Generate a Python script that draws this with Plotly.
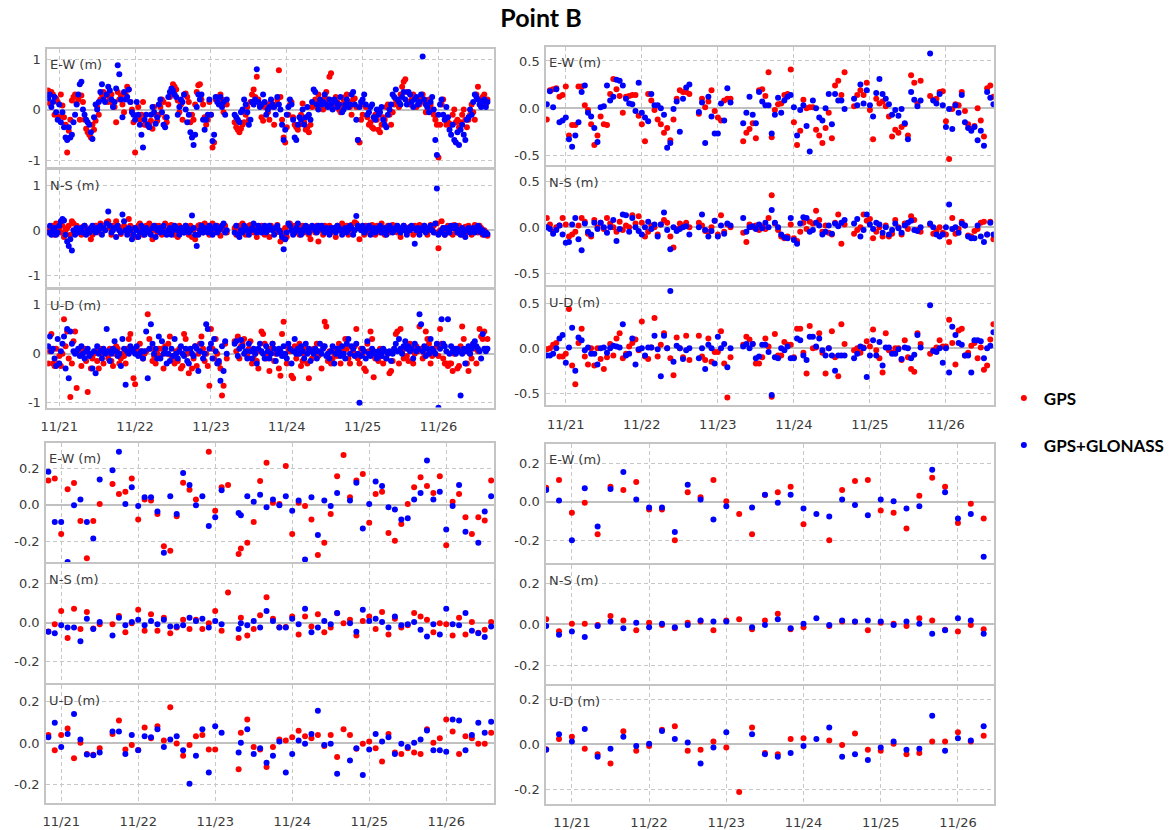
import pandas as pd
import plotly.graph_objects as go

BASE = pd.Timestamp("2013-11-21")

# ---------------- data (hours since 11/21 00:00, metres) ----------------
# Top-left quadrant (30-min epochs)
tl_hours = [
    -3.5, -3, -2.5, -2, -1.5, -1, -0.5, 0, 0.5, 1,
    1.5, 2, 2.5, 3, 3.5, 4, 4.5, 5, 5.5, 6,
    6.5, 7, 7.5, 8, 8.5, 9, 9.5, 10, 10.5, 11,
    11.5, 12, 12.5, 13, 13.5, 14, 14.5, 15, 15.5, 16,
    16.5, 17, 17.5, 18, 18.5, 19, 19.5, 20, 20.5, 21,
    21.5, 22, 22.5, 23, 23.5, 24, 24.5, 25, 25.5, 26,
    26.5, 27, 27.5, 28, 28.5, 29, 29.5, 30, 30.5, 31,
    31.5, 32, 32.5, 33, 33.5, 34, 34.5, 35, 35.5, 36,
    36.5, 37, 37.5, 38, 38.5, 39, 39.5, 40, 40.5, 41,
    41.5, 42, 42.5, 43, 43.5, 44, 44.5, 45, 45.5, 46,
    46.5, 47, 47.5, 48, 48.5, 49, 49.5, 50, 50.5, 51,
    51.5, 52, 52.5, 53,
    55.5, 56, 56.5, 57, 57.5, 58, 58.5, 59, 59.5, 60,
    60.5, 61, 61.5, 62, 62.5, 63, 63.5, 64, 64.5, 65,
    65.5, 66, 66.5, 67, 67.5, 68, 68.5, 69, 69.5, 70,
    70.5, 71, 71.5, 72, 72.5, 73, 73.5, 74, 74.5, 75,
    75.5, 76, 76.5, 77, 77.5, 78, 78.5, 79, 79.5, 80,
    80.5, 81, 81.5, 82, 82.5, 83, 83.5, 84, 84.5, 85,
    85.5, 86, 86.5, 87, 87.5, 88, 88.5, 89, 89.5, 90,
    90.5, 91, 91.5, 92, 92.5, 93, 93.5, 94, 94.5, 95,
    95.5, 96, 96.5, 97, 97.5, 98, 98.5, 99, 99.5, 100,
    100.5, 101, 101.5, 102, 102.5, 103, 103.5, 104, 104.5, 105,
    105.5, 106, 106.5, 107, 107.5, 108, 108.5, 109, 109.5, 110,
    110.5, 111, 111.5, 112, 112.5, 113, 113.5, 114, 114.5, 115,
    115.5, 116, 116.5, 117, 117.5, 118, 118.5, 119, 119.5, 120,
    120.5, 121, 121.5, 122, 122.5, 123, 123.5, 124, 124.5, 125,
    125.5, 126, 126.5, 127, 127.5, 128, 128.5, 129, 129.5, 130,
    130.5, 131, 131.5, 132, 132.5, 133, 133.5, 134, 134.5, 135,
    135.5,
]
tl_ew_gps = [
    0.38, 0.12, 0.35, 0.3, -0.1, 0.22, 0.15, -0.14, 0.3, 0.08,
    -0.15, -0.3, -0.85, -0.42, -0.2, 0.18, 0.25, 0.3, 0.12, 0.2,
    -0.2, 0.28, 0.15, -0.2, -0.38, -0.45, -0.5, -0.55, -0.3, -0.4,
    -0.22, 0.05, -0.1, 0.2, 0.3, 0.35, 0.28, 0.3, 0.15, 0.22,
    0.3, 0.1, 0.05, -0.25, 0.35, 0.2, 0.28, 0.1, -0.05, 0.3,
    0.45, 0.4, 0.15, 0.0, -0.25, -0.85, -0.12, 0.05, -0.2, -0.1,
    0.15, -0.3, -0.28, -0.32, -0.3, -0.22, -0.38, 0.05, -0.1, -0.22,
    -0.1, 0.05, 0.2, 0.15, -0.15, -0.25, 0.1, 0.25, 0.3, 0.5,
    0.45, 0.4, 0.18, -0.05, 0.1, -0.2, 0.3, 0.32, 0.25, 0.15,
    -0.25, -0.1, -0.2, 0.1, 0.35, 0.48, 0.5, 0.2, 0.1, -0.15,
    -0.3, -0.2, 0.15, -0.1, -0.75, -0.65, 0.2, 0.25, 0.15, 0.3,
    0.2, -0.05, 0.18, 0.1,
    -0.25, -0.35, -0.4, -0.45, -0.38, -0.3, -0.25, -0.1, 0.05, -0.2,
    0.15, 0.3, 0.4, 0.25, 0.65, 0.2, 0.1, -0.15, -0.22, 0.05,
    0.1, -0.05, -0.2, 0.15, 0.05, -0.3, 0.1, 0.2, 0.78, 0.25,
    -0.2, -0.55, -0.65, -0.35, -0.1, 0.1, 0.15, -0.15, -0.3, -0.35,
    -0.4, -0.3, -0.1, 0.12, -0.25, -0.4, -0.35, -0.45, -0.3, 0.05,
    0.1, 0.2, 0.05, 0.3, 0.18, 0.1, 0.0, 0.25, 0.35, 0.2,
    0.65, 0.72, 0.1, 0.05, 0.25, 0.15, 0.0, -0.05, 0.1, 0.2,
    0.25, 0.3, 0.15, 0.05, -0.1, 0.2, 0.22, 0.05, -0.6, -0.65,
    -0.2, -0.1, 0.1, 0.05, -0.15, -0.3, -0.25, -0.35, -0.38, -0.1,
    -0.2, -0.4, -0.45, -0.3, -0.15, -0.2, 0.05, 0.1, -0.1, -0.3,
    -0.05, 0.1, 0.2, 0.15, 0.05, 0.3, 0.45, 0.55, 0.6, 0.35,
    0.15, 0.1, 0.2, 0.3, 0.25, 0.05, 0.2, 0.1, 0.2, 0.3,
    0.15, -0.05, 0.05, 0.2, 0.1, 0.0, -0.1, -0.2, -0.3, -0.95,
    -0.3, 0.1, 0.2, -0.2, -0.3, -0.25, -0.28, -0.3, -0.1, 0.0,
    -0.25, -0.2, -0.35, -0.25, -0.1, 0.0, -0.2, -0.35, -0.2, -0.1,
    0.1, -0.05, -0.2, 0.3, 0.45, 0.2, 0.15, 0.25, 0.3, 0.1,
    0.2,
]
tl_ew_glo = [
    0.22, 0.3, 0.05, 0.15, 0.25, -0.05, -0.2, 0.1, -0.25, -0.05,
    -0.35, -0.55, -0.6, -0.35, -0.55, -0.5, -0.25, -0.1, 0.1, 0.3,
    0.5, 0.55, 0.0, -0.1, -0.2, -0.25, -0.3, -0.45, -0.58, -0.15,
    0.1, 0.0, 0.15, 0.35, 0.5, 0.2, 0.15, 0.3, 0.45, 0.38,
    0.2, 0.05, 0.15, 0.42, 0.88, 0.7, 0.2, -0.15, 0.35, 0.2,
    0.25, 0.4, 0.15, -0.05, -0.1, -0.2, 0.15, -0.1, -0.3, -0.5,
    -0.75, -0.2, -0.1, -0.3, -0.35, -0.1, 0.05, -0.05, -0.28, -0.15,
    0.1, 0.2, -0.05, -0.3, -0.35, -0.15, 0.25, 0.35, 0.42, 0.38,
    0.3, 0.25, -0.1, 0.05, 0.2, 0.15, 0.3, 0.0, -0.25, -0.1,
    -0.45, -0.55, -0.7, -0.5, 0.05, 0.3, 0.2, 0.3, -0.2, -0.4,
    -0.2, -0.1, 0.2, -0.1, -0.62, -0.5, 0.25, 0.15, 0.1, 0.25,
    0.05, 0.15, -0.1, 0.2,
    -0.1, -0.15, -0.2, -0.25, -0.05, 0.0, 0.2, 0.1, -0.05, -0.3,
    -0.2, 0.15, 0.1, 0.2, 0.8, 0.15, 0.05, 0.1, 0.3, 0.15,
    -0.1, 0.0, 0.05, 0.2, 0.1, 0.05, -0.1, 0.25, 0.1, 0.0,
    -0.3, -0.6, -0.4, -0.1, 0.05, 0.2, 0.1, -0.2, -0.55, -0.6,
    -0.3, -0.15, -0.2, 0.0, -0.3, -0.15, 0.05, -0.1, -0.2, 0.15,
    0.4, 0.35, 0.1, 0.0, 0.2, 0.1, 0.15, 0.3, 0.1, 0.05,
    0.2, 0.1, 0.0, 0.2, 0.15, 0.05, 0.1, 0.25, -0.05, 0.0,
    0.1, 0.2, 0.05, 0.1, 0.3, 0.35, 0.1, -0.2, -0.6, 0.05,
    0.15, 0.2, 0.3, 0.1, -0.1, -0.05, 0.05, 0.1, -0.15, -0.2,
    0.0, -0.1, -0.05, 0.05, -0.2, -0.3, -0.35, -0.1, 0.0, 0.1,
    0.3, 0.25, 0.4, 0.2, 0.15, 0.1, 0.25, 0.35, 0.2, 0.1,
    0.35, 0.3, 0.15, 0.05, 0.2, 0.25, 0.1, 0.15, 0.3, 1.05,
    0.2, 0.1, 0.05, -0.05, 0.15, 0.25, 0.0, -0.6, -0.9, -0.1,
    0.1, 0.2, -0.1, -0.2, 0.05, -0.15, -0.4, -0.5, -0.3, -0.6,
    -0.65, -0.45, -0.7, -0.4, -0.3, -0.5, -0.6, -0.2, -0.15, 0.0,
    -0.1, 0.15, 0.3, 0.25, 0.2, 0.1, 0.05, 0.15, 0.2, 0.05,
    0.15,
]
tl_ns_gps = [
    0.05, -0.05, 0.1, 0.0, -0.1, 0.15, 0.12, 0.05, -0.05, 0.1,
    -0.15, 0.0, 0.05, 0.1, -0.1, 0.2, 0.15, -0.05, 0.1, 0.05,
    0.0, -0.1, 0.08, 0.1, 0.05, -0.05, 0.0, -0.2, -0.1, 0.05,
    0.1, 0.0, -0.05, 0.15, 0.05, 0.1, 0.0, 0.18, 0.2, 0.05,
    -0.1, 0.1, 0.05, 0.2, 0.1, 0.0, -0.08, 0.05, 0.1, 0.0,
    -0.05, 0.25, 0.1, -0.1, 0.05, 0.0, -0.15, 0.1, 0.15, 0.05,
    -0.1, 0.0, 0.1, -0.05, 0.15, 0.05, -0.2, 0.0, 0.1, -0.05,
    0.1, 0.0, -0.1, 0.05, 0.15, 0.0, -0.05, 0.1, 0.12, 0.0,
    -0.1, 0.05, -0.15, 0.1, 0.0, 0.05, -0.05, 0.1, 0.0, -0.1,
    0.1, -0.15, 0.0, -0.2, 0.05, 0.1, 0.12, 0.05, -0.05, 0.15,
    0.0, 0.1, -0.1, 0.05, 0.15, -0.05, 0.0, 0.1, 0.05, -0.12,
    0.05, 0.0, 0.1, -0.05,
    0.05, -0.1, 0.0, 0.1, -0.05, 0.15, 0.05, -0.1, 0.0, 0.1,
    0.12, 0.05, -0.05, 0.1, -0.15, 0.0, 0.05, 0.1, -0.05, -0.1,
    0.0, 0.05, -0.15, 0.1, 0.05, 0.0, -0.05, 0.12, 0.0, -0.25,
    -0.1, 0.0, 0.05, -0.15, 0.1, 0.15, 0.05, -0.05, 0.1, 0.0,
    0.1, -0.1, 0.05, 0.1, -0.05, 0.0, 0.08, -0.1, -0.2, 0.0,
    0.05, -0.05, 0.1, -0.25, 0.0, 0.05, -0.1, 0.1, 0.05, 0.0,
    0.1, -0.05, 0.05, 0.0, -0.15, 0.1, 0.0, 0.05, 0.15, -0.05,
    0.0, 0.1, -0.1, 0.05, 0.12, 0.0, 0.18, 0.15, 0.05, -0.2,
    0.05, 0.0, -0.1, 0.1, 0.05, -0.05, 0.0, 0.12, 0.05, -0.1,
    0.1, 0.0, -0.05, 0.15, 0.05, -0.1, 0.0, 0.1, -0.05, 0.05,
    0.12, 0.0, 0.1, -0.05, 0.05, -0.15, 0.0, 0.1, 0.05, -0.05,
    0.0, 0.08, 0.05, -0.1, 0.1, 0.0, -0.05, 0.12, 0.05, 0.0,
    0.1, 0.05, -0.1, 0.0, 0.12, 0.05, 0.1, -0.05, 0.15, -0.4,
    0.0, 0.2, 0.05, -0.1, 0.0, 0.1, -0.05, 0.05, -0.1, 0.12,
    0.0, -0.05, 0.1, 0.05, -0.1, 0.0, 0.08, -0.05, 0.1, 0.0,
    -0.1, 0.05, 0.12, 0.0, -0.05, 0.1, 0.05, -0.1, 0.0, -0.05,
    -0.12,
]
tl_ns_glo = [
    -0.05, 0.1, -0.1, 0.0, 0.05, -0.1, -0.05, 0.1, 0.2, 0.25,
    0.22, -0.1, -0.25, -0.35, -0.2, -0.45, 0.0, -0.1, 0.05, -0.05,
    0.0, 0.05, -0.05, 0.1, -0.1, 0.0, -0.05, 0.05, 0.1, 0.0,
    -0.05, 0.05, 0.0, 0.1, -0.1, 0.05, 0.0, 0.15, 0.42, 0.1,
    -0.05, 0.0, 0.05, -0.15, 0.1, 0.0, -0.05, 0.35, 0.2, 0.0,
    -0.1, 0.05, 0.0, -0.2, -0.1, 0.05, 0.0, -0.15, -0.05, 0.1,
    0.0, -0.1, 0.05, 0.0, -0.05, -0.1, 0.05, 0.1, -0.15, 0.0,
    0.05, -0.05, 0.0, 0.1, -0.05, -0.1, 0.0, 0.05, -0.1, 0.0,
    0.1, 0.05, 0.0, -0.1, 0.05, 0.0, -0.05, 0.1, 0.05, -0.05,
    0.0, 0.33, 0.05, -0.1, -0.35, -0.1, 0.0, 0.1, -0.05, 0.05,
    0.0, -0.05, 0.1, 0.0, -0.1, 0.05, 0.1, -0.05, 0.0, 0.05,
    0.1, 0.15, -0.05, 0.0,
    -0.05, 0.1, -0.1, -0.15, 0.0, -0.05, 0.1, 0.05, 0.0, -0.1,
    0.0, 0.05, 0.15, 0.0, -0.05, 0.1, 0.0, -0.05, 0.05, 0.1,
    -0.05, 0.0, 0.1, 0.05, 0.0, -0.1, 0.05, 0.1, 0.0, -0.05,
    -0.15, -0.42, -0.2, -0.05, 0.15, 0.1, 0.0, -0.1, -0.05, 0.05,
    0.15, 0.0, -0.1, -0.05, 0.05, 0.1, 0.0, -0.05, 0.05, 0.1,
    0.08, 0.0, -0.05, 0.1, 0.05, 0.1, 0.0, -0.05, 0.05, 0.0,
    -0.1, 0.05, 0.0, 0.05, -0.05, 0.1, 0.05, 0.0, -0.1, 0.0,
    0.05, -0.05, 0.0, 0.1, 0.05, -0.1, 0.0, 0.32, 0.1, 0.05,
    0.0, 0.1, -0.05, 0.0, 0.05, 0.1, -0.1, 0.0, 0.05, -0.05,
    0.0, 0.05, 0.1, -0.05, 0.0, 0.05, -0.1, 0.0, 0.1, 0.05,
    -0.05, 0.0, 0.05, 0.1, 0.0, -0.05, 0.05, 0.1, 0.0, -0.1,
    0.05, 0.0, 0.1, 0.05, -0.3, 0.0, 0.05, -0.1, 0.0, 0.05,
    0.1, -0.05, 0.0, 0.05, 0.1, 0.0, -0.05, 0.15, 0.93, -0.1,
    -0.05, 0.0, 0.05, -0.1, 0.05, 0.0, -0.05, 0.1, 0.05, 0.05,
    0.1, -0.05, 0.0, -0.1, 0.05, -0.05, -0.15, 0.0, 0.05, -0.05,
    0.0, 0.05, -0.05, 0.0, 0.1, 0.05, -0.05, 0.0, -0.1, -0.05,
    -0.08,
]
tl_ud_gps = [
    -0.2, 0.05, 0.4, -0.2, -0.25, 0.1, -0.2, -0.05, -0.25, 0.0,
    0.7, 0.15, 0.45, -0.1, -0.88, -0.2, 0.25, 0.45, -0.7, 0.05,
    0.0, -0.25, 0.05, 0.1, -0.15, -0.78, 0.0, -0.3, -0.1, 0.0,
    0.05, -0.15, -0.3, 0.1, 0.0, -0.2, 0.05, 0.0, -0.1, 0.1,
    -0.15, -0.25, 0.0, 0.15, 0.1, -0.2, -0.1, 0.0, -0.05, -0.2,
    0.1, 0.3, 0.4, 0.05, -0.5, -0.62, 0.1, 0.0, 0.2, 0.05,
    -0.1, 0.0, 0.05, 0.8, 0.3, 0.1, -0.15, -0.05, -0.2, 0.0,
    0.1, -0.05, 0.1, -0.3, 0.15, 0.0, 0.2, 0.35, -0.05, -0.1,
    -0.2, 0.05, -0.15, 0.1, -0.3, -0.25, 0.4, 0.3, 0.0, -0.4,
    0.05, -0.3, -0.1, 0.15, -0.25, 0.0, 0.2, 0.35, 0.1, -0.15,
    0.0, -0.25, -0.65, 0.5, 0.1, -0.1, 0.3, 0.0, -0.2, -0.3,
    -0.85, -0.65, 0.2, -0.1,
    0.25, 0.05, 0.35, -0.1, 0.15, 0.2, 0.3, 0.0, -0.05, 0.1,
    0.25, -0.2, -0.1, 0.0, -0.15, -0.3, 0.05, 0.45, 0.4, 0.2,
    -0.1, 0.0, -0.35, 0.1, 0.2, -0.15, 0.0, 0.05, -0.3, -0.45,
    0.4, 0.65, -0.05, -0.2, 0.1, 0.05, -0.45, -0.5, 0.15, -0.1,
    0.0, 0.2, -0.25, -0.15, 0.0, 0.1, -0.2, -0.5, 0.05, -0.1,
    0.1, 0.05, 0.2, -0.05, 0.0, -0.3, 0.15, 0.65, 0.55, -0.15,
    0.05, -0.2, -0.1, 0.0, 0.1, -0.05, 0.2, -0.2, 0.0, 0.05,
    0.3, 0.1, -0.1, -0.2, 0.0, 0.05, 0.15, 0.5, -0.1, -0.2,
    0.1, 0.0, -0.3, -0.35, 0.2, 0.05, 0.45, 0.3, -0.48, -0.1,
    0.0, -0.15, 0.1, -0.05, -0.2, 0.05, -0.1, 0.0, -0.4, -0.35,
    -0.15, 0.1, 0.4, 0.45, -0.2, 0.5, 0.05, -0.1, 0.15, -0.05,
    -0.15, 0.2, 0.1, -0.2, 0.0, 0.15, 0.05, 0.55, 0.1, -0.1,
    0.0, 0.45, 0.3, 0.2, -0.2, -0.05, 0.1, 0.0, 0.15, -0.05,
    0.5, 0.2, -0.1, -0.2, -0.2, -0.25, -0.2, -0.2, -0.35, 0.0,
    0.1, -0.3, -0.25, 0.15, 0.55, 0.3, 0.05, -0.2, -0.35, 0.0,
    -0.1, 0.2, 0.1, -0.2, 0.05, 0.5, 0.35, 0.3, 0.45, 0.1,
    0.3,
]
tl_ud_glo = [
    0.15, 0.35, 0.05, 0.1, -0.1, -0.25, 0.3, -0.2, 0.05, 0.2,
    0.35, -0.3, 0.5, -0.5, 0.45, 0.2, 0.05, 0.0, 0.05, 0.1,
    -0.05, 0.15, 0.0, -0.1, 0.05, 0.1, -0.05, 0.0, -0.3, 0.05,
    -0.4, 0.15, 0.0, 0.05, -0.1, 0.1, 0.0, 0.5, 0.05, -0.15,
    0.0, 0.1, 0.25, 0.05, -0.05, 0.0, -0.25, 0.3, 0.1, -0.63,
    0.05, 0.0, 0.15, 0.1, 0.05, 0.0, 0.15, -0.05, 0.0, 0.05,
    -0.1, 0.05, 0.45, -0.5, 0.1, 0.6, 0.2, 0.0, 0.1, -0.1,
    0.35, -0.1, 0.25, 0.0, 0.1, -0.2, 0.0, -0.15, 0.1, -0.05,
    0.3, 0.0, -0.1, 0.05, 0.15, 0.0, -0.05, 0.1, -0.15, -0.2,
    0.1, 0.0, -0.05, 0.15, 0.1, -0.35, 0.05, 0.2, -0.1, 0.0,
    0.6, 0.5, 0.1, 0.2, -0.1, 0.3, 0.05, -0.2, -0.15, -0.55,
    0.15, -0.35, 0.25, 0.0,
    0.2, 0.25, -0.05, 0.1, 0.28, 0.15, 0.0, 0.05, -0.1, 0.2,
    0.05, -0.1, 0.1, 0.0, -0.2, 0.1, 0.2, 0.05, 0.0, -0.1,
    0.15, 0.05, -0.1, 0.0, 0.2, 0.1, -0.15, 0.0, 0.1, 0.05,
    -0.05, 0.15, 0.0, -0.1, 0.2, 0.1, -0.2, 0.05, 0.3, 0.0,
    0.1, 0.0, 0.15, 0.05, -0.1, 0.2, 0.0, 0.1, -0.15, 0.05,
    0.0, 0.1, -0.1, 0.05, 0.2, 0.0, 0.1, 0.15, -0.05, 0.0,
    -0.1, 0.05, 0.15, -0.2, 0.0, 0.1, 0.05, -0.05, 0.15, 0.0,
    -0.1, 0.2, 0.3, 0.0, 0.15, 0.1, -0.05, 0.2, 0.0, -1.0,
    -0.05, 0.1, 0.05, -0.1, 0.25, 0.0, -0.05, 0.1, 0.05, 0.0,
    -0.1, 0.05, 0.0, -0.05, 0.1, 0.05, -0.1, 0.0, 0.05, -0.15,
    0.0, 0.1, 0.2, 0.05, 0.3, 0.1, 0.0, 0.15, 0.25, 0.1,
    0.15, 0.05, 0.1, -0.1, 0.2, 0.05, 0.1, 0.8, 0.6, 0.05,
    0.15, -0.05, 0.1, 0.0, 0.3, 0.1, 0.05, 0.0, 0.2, -1.1,
    0.1, 0.7, 0.2, 0.15, 0.05, 0.7, 0.0, 0.15, 0.05, 0.1,
    0.0, 0.1, 0.05, -0.85, 0.0, 0.1, -0.2, 0.05, 0.15, 0.0,
    0.1, 0.2, 0.25, 0.15, 0.1, 0.05, -0.1, 0.4, 0.1, 0.05,
    0.1,
]

# Top-right quadrant (hourly epochs)
tr_hours = [
    -6, -5, -4, -3, -2, -1,
    0, 1, 2, 3, 4, 5, 6, 7, 8, 9,
    10, 11, 12, 13, 14, 15, 16, 17, 18, 19,
    20, 21, 22, 23, 24, 25, 26, 27, 28, 29,
    30, 31, 32, 33, 34, 35, 36, 37, 38, 39,
    40, 41, 42, 43, 44, 45, 46, 47, 48, 49,
    50, 51, 52, 53, 54, 55, 56, 57, 58, 59,
    60, 61, 62, 63, 64, 65, 66, 67, 68, 69,
    70, 71, 72, 73, 74, 75, 76, 77, 78, 79,
    80, 81, 82, 83, 84, 85, 86, 87, 88, 89,
    90, 91, 92, 93, 94, 95, 96, 97, 98, 99,
    100, 101, 102, 103, 104, 105, 106, 107, 108, 109,
    110, 111, 112, 113, 114, 115, 116, 117, 118, 119,
    120, 121, 122, 123, 124, 125, 126, 127, 128, 129,
    130, 131, 132, 133, 134, 135,
]
tr_ew_gps = [
    -0.12, 0.19, 0.2, 0.21, 0.12, 0.14,
    0.23, -0.29, -0.18, -0.18, 0.23, 0.23, 0.03, -0.02, -0.17, -0.39,
    -0.29, -0.09, -0.17, -0.18, 0.15, 0.31, 0.2, 0.13, -0.05, 0.12,
    0.13, 0.14, 0.14, -0.08, -0.17, -0.35, 0.15, 0.08, -0.02, -0.12,
    -0.17, -0.26, -0.21, -0.34, -0.12, 0.1, 0.19, 0.17, 0.17, 0.15,
    None, None, -0.06, 0.1, 0.01, 0.07, 0.19, -0.03, -0.1, -0.13,
    0.08, 0.1, 0.1, None, None, None, -0.35, -0.26, -0.22, -0.16,
    -0.32, 0.19, 0.2, 0.13, 0.38, -0.31, -0.02, 0.04, 0.05, 0.14,
    0.15, 0.41, -0.15, -0.39, -0.24, 0.09, 0.0, 0.01, 0.01, -0.23,
    -0.29, -0.37, -0.21, -0.05, -0.32, 0.24, 0.29, 0.14, 0.38, None,
    None, 0.02, 0.14, 0.19, 0.14, 0.27, -0.02, -0.33, 0.1, 0.05,
    0.07, 0.02, -0.09, -0.3, -0.23, -0.26, -0.2, -0.17, -0.29, 0.35,
    0.27, 0.05, 0.29, None, None, 0.13, 0.09, 0.1, 0.17, 0.18,
    -0.14, -0.54, -0.01, 0.04, 0.03, 0.17, -0.03, -0.17, -0.22, -0.19,
    0.0, -0.13, -0.3, 0.21, 0.24, 0.12,
]
tr_ew_glo = [
    0.04, 0.18, 0.01, 0.2, -0.15, -0.13,
    -0.1, -0.33, -0.41, -0.29, -0.15, 0.17, 0.24, -0.05, -0.09, -0.21,
    -0.36, 0.01, 0.02, 0.24, 0.08, 0.12, 0.3, 0.29, 0.24, 0.1,
    0.05, 0.04, -0.03, 0.27, -0.05, -0.1, -0.14, 0.15, 0.03, 0.03,
    0.0, -0.07, -0.42, -0.37, -0.01, 0.07, -0.25, 0.1, 0.22, 0.25,
    None, None, -0.04, 0.06, -0.37, 0.12, -0.09, -0.27, -0.27, 0.05,
    -0.13, 0.21, 0.06, None, None, None, -0.16, -0.05, 0.12, -0.07,
    -0.16, 0.17, 0.07, 0.03, 0.03, -0.27, -0.07, 0.11, -0.05, 0.08,
    0.12, 0.14, 0.01, -0.29, -0.02, 0.03, -0.19, -0.46, 0.08, 0.0,
    -0.1, -0.13, 0.0, 0.15, -0.17, 0.15, 0.08, 0.08, -0.01, None,
    None, 0.1, 0.03, 0.25, 0.05, 0.19, 0.03, -0.09, 0.16, 0.31,
    0.15, 0.1, 0.04, -0.07, -0.02, -0.08, -0.01, -0.16, -0.33, 0.17,
    0.09, 0.02, 0.08, None, None, 0.58, 0.08, 0.05, 0.15, 0.03,
    -0.2, -0.01, -0.22, 0.03, -0.05, 0.14, -0.15, -0.21, -0.24, -0.2,
    -0.34, -0.24, -0.4, 0.17, 0.11, 0.04,
]
tr_ns_gps = [
    0.1, 0.03, -0.05, 0.0, 0.02, 0.1,
    0.03, -0.1, -0.08, -0.05, 0.02, 0.1, 0.06, -0.07, -0.1, 0.08,
    0.0, 0.05, -0.02, 0.1, 0.04, 0.0, -0.05, 0.06, -0.03, 0.02,
    0.0, 0.13, 0.04, 0.12, 0.05, -0.1, -0.05, 0.02, 0.0, -0.08,
    0.03, 0.08, 0.05, -0.1, -0.22, -0.02, 0.04, 0.02, 0.05, 0.0,
    None, None, 0.05, 0.02, -0.04, -0.05, 0.0, 0.07, -0.08, 0.13,
    -0.05, 0.03, 0.0, None, None, None, -0.06, -0.16, 0.03, 0.0,
    0.02, -0.03, 0.01, -0.02, 0.1, 0.35, 0.04, -0.03, -0.1, -0.12,
    -0.1, 0.03, -0.12, -0.15, -0.05, 0.05, -0.02, 0.06, 0.04, 0.18,
    0.08, -0.05, 0.02, -0.06, -0.08, 0.05, 0.14, -0.18, 0.03, None,
    None, -0.07, -0.03, 0.0, 0.14, 0.07, 0.09, -0.12, -0.05, 0.0,
    -0.1, 0.02, -0.1, -0.07, 0.08, 0.0, -0.08, 0.04, -0.02, 0.12,
    0.08, -0.03, -0.05, None, None, 0.03, -0.07, -0.04, 0.0, -0.06,
    -0.08, -0.16, 0.1, -0.07, -0.02, 0.06, 0.02, -0.09, -0.1, -0.04,
    -0.02, 0.05, 0.06, -0.08, 0.06, -0.13,
]
tr_ns_glo = [
    0.0, -0.02, -0.07, -0.03, 0.02, -0.08,
    -0.17, -0.16, 0.03, 0.1, -0.13, -0.25, 0.04, -0.05, -0.08, 0.05,
    -0.02, 0.05, 0.0, -0.06, 0.0, 0.08, -0.15, -0.02, 0.14, 0.13,
    -0.05, 0.1, 0.0, -0.04, -0.08, 0.0, 0.06, -0.02, 0.03, -0.1,
    0.03, 0.16, -0.03, -0.24, 0.0, -0.04, -0.02, 0.0, 0.01, -0.08,
    None, None, 0.0, 0.14, -0.03, -0.1, -0.04, 0.07, -0.1, 0.02,
    -0.07, 0.04, 0.02, None, None, None, 0.1, -0.05, 0.0, 0.01,
    -0.02, 0.03, -0.01, 0.05, 0.0, 0.19, 0.05, 0.0, -0.08, -0.11,
    -0.12, 0.1, -0.14, -0.18, 0.04, 0.11, 0.1, -0.05, -0.03, 0.05,
    0.02, -0.08, -0.05, 0.02, -0.07, 0.04, 0.01, 0.05, 0.08, None,
    None, 0.04, 0.09, -0.1, -0.03, 0.14, 0.03, -0.02, 0.05, 0.03,
    -0.06, 0.0, -0.08, -0.03, 0.04, -0.01, -0.06, 0.02, 0.05, 0.07,
    -0.03, -0.04, 0.0, None, None, 0.04, 0.0, -0.08, -0.1, -0.08,
    0.0, 0.25, -0.02, 0.0, -0.06, 0.04, 0.02, -0.1, -0.12, -0.12,
    0.02, -0.1, -0.16, -0.08, 0.05, -0.08,
]
tr_ud_gps = [
    -0.01, 0.0, 0.04, 0.06, -0.09, -0.09,
    -0.06, 0.44, -0.19, -0.4, 0.06, 0.22, -0.09, -0.18, 0.0, -0.19,
    0.0, -0.12, -0.23, -0.1, 0.05, -0.08, 0.11, 0.17, -0.11, -0.06,
    0.02, 0.06, 0.1, -0.02, 0.3, -0.09, -0.12, 0.01, 0.34, -0.09,
    0.04, 0.17, 0.0, -0.11, -0.3, 0.12, 0.0, -0.1, 0.14, -0.13,
    None, None, 0.14, -0.09, -0.13, 0.11, -0.15, -0.04, -0.04, 0.19,
    -0.17, -0.55, -0.1, None, None, None, 0.04, 0.13, 0.1, 0.05,
    -0.17, -0.17, -0.1, 0.11, 0.02, -0.54, 0.16, -0.08, -0.08, 0.07,
    0.04, 0.04, -0.1, 0.22, 0.22, -0.05, -0.28, 0.25, 0.0, 0.01,
    0.17, -0.05, -0.28, 0.0, 0.19, -0.1, -0.31, 0.27, 0.05, None,
    None, -0.02, 0.0, -0.05, 0.01, 0.08, 0.02, 0.21, -0.02, -0.11,
    -0.27, 0.17, -0.02, -0.05, 0.0, 0.0, -0.13, 0.09, -0.1, -0.23,
    -0.26, 0.17, 0.05, None, None, -0.06, -0.02, 0.01, 0.09, 0.02,
    0.02, 0.32, 0.06, -0.18, 0.2, 0.22, -0.08, -0.05, 0.03, 0.06,
    -0.11, 0.01, -0.24, -0.19, 0.1, 0.27,
]
tr_ud_glo = [
    -0.08, -0.08, -0.06, 0.0, 0.11, 0.15,
    -0.16, 0.01, 0.23, -0.25, 0.12, 0.09, -0.02, 0.01, -0.06, -0.06,
    -0.18, 0.0, 0.01, -0.05, 0.0, 0.03, 0.02, 0.01, 0.27, -0.08,
    -0.06, 0.11, -0.18, -0.01, 0.0, -0.08, 0.01, 0.01, 0.14, -0.01,
    -0.31, 0.14, 0.0, 0.64, -0.15, 0.03, 0.0, -0.12, -0.02, 0.0,
    None, None, -0.11, 0.0, -0.23, 0.04, 0.0, -0.17, 0.13, 0.0,
    0.05, -0.21, 0.0, None, None, None, 0.02, 0.05, 0.0, 0.05,
    -0.11, -0.09, 0.04, 0.04, -0.04, -0.52, -0.1, -0.11, 0.0, -0.02,
    0.02, -0.11, -0.11, 0.11, 0.09, -0.08, -0.13, 0.13, 0.13, 0.02,
    0.11, -0.02, -0.08, 0.0, -0.08, -0.25, -0.08, -0.08, -0.08, None,
    None, -0.11, -0.06, 0.02, 0.0, -0.32, -0.08, 0.09, -0.08, 0.07,
    -0.19, 0.01, 0.01, -0.06, -0.06, -0.01, -0.12, 0.01, 0.0, -0.11,
    -0.07, 0.15, 0.01, None, None, 0.48, -0.03, -0.04, 0.0, -0.16,
    0.0, -0.27, 0.24, 0.15, 0.06, 0.04, -0.08, -0.08, -0.27, 0.09,
    0.09, 0.08, -0.11, 0.0, 0.03, 0.18,
]

# Bottom-left quadrant (2-hour epochs)
bl_hours = [
    -4, -2, 0, 2, 4, 6, 8, 10, 12,
    16, 18, 20, 22, 24, 26, 28, 30, 32, 34, 36, 38, 40, 42, 44, 46, 48, 50, 52,
    55.3, 56,
    58, 60, 62, 64, 66, 68, 70, 72, 74, 76, 78, 80, 82, 84, 86, 88, 90, 92, 94, 96,
    98, 100, 102, 104, 106, 108, 110, 112, 114, 116, 118, 120, 122, 124, 126, 128,
    130, 132, 134,
]
bl_ew_gps = [
    0.132, 0.143, -0.159, 0.084, 0.118, -0.088, -0.291, -0.088, 0.004,
    0.113, 0.059, 0.071, 0.143, -0.08, 0.029, 0.023, -0.05, -0.225, -0.25, -0.063,
    0.12, 0.082, 0.029, None, 0.289, -0.032, 0.095, 0.107,
    -0.268, -0.238,
    -0.207, -0.093, 0.13, 0.229, 0.011, 0.004, 0.211, -0.159, 0.011, -0.007, -0.08,
    -0.273, -0.207, -0.05, 0.155, 0.271, 0.041, 0.132, 0.168, -0.098, 0.059, 0.071,
    -0.154, -0.195, -0.104, 0.004, 0.095, 0.15, 0.102, 0.064, 0.155, -0.22, 0.016,
    0.059, -0.068, -0.159, -0.068, -0.086, 0.132,
]
bl_ew_glo = [
    0.18, -0.093, -0.093, -0.311, -0.002, 0.029, -0.093, -0.184, 0.138,
    0.188, 0.289, 0.004, 0.095, -0.007, 0.041, 0.041, -0.037, -0.261, 0.046, -0.05,
    0.173, 0.107, -0.002, 0.046, -0.116, -0.068, 0.079, None,
    -0.045, -0.057,
    0.046, 0.016, 0.054, -0.014, 0.029, -0.002, 0.046, -0.032, 0.023, -0.298, 0.041,
    -0.164, 0.023, -0.007, 0.064, None, 0.023, 0.12, -0.129, 0.004, 0.127, 0.102,
    -0.014, -0.025, -0.08, -0.073, 0.029, 0.064, 0.241, 0.029, 0.071, -0.134, -0.007,
    0.107, -0.146, None, -0.207, -0.037, 0.046,
]
bl_ns_gps = [
    -0.045, -0.008, 0.059, -0.078, 0.071, -0.032, 0.054, -0.03, -0.008,
    -0.008, 0.034, -0.049, -0.003, 0.066, -0.042, 0.042, -0.042, 0.025, -0.054, -0.025,
    0.014, -0.032, 0.014, -0.032, -0.003, 0.059, -0.042, 0.153,
    -0.078, 0.025,
    -0.066, -0.032, 0.037, 0.129, 0.02, -0.024, -0.023, 0.031, -0.061, 0.031, -0.02,
    0.042, -0.049, -0.025, 0.047, -0.003, 0.014, -0.066, 0.008, 0.031, -0.032, 0.054,
    -0.061, 0.02, -0.025, -0.014, 0.049, 0.031, 0.014, -0.049, -0.003, -0.008, -0.066,
    0.025, -0.061, 0.003, -0.052, -0.037, 0.003,
]
bl_ns_glo = [
    -0.047, -0.054, -0.014, -0.025, -0.025, -0.095, 0.02, -0.032, 0.003,
    -0.066, 0.025, -0.014, 0.003, 0.014, -0.014, 0.008, -0.008, 0.014, -0.02, -0.02,
    -0.014, 0.025, 0.008, 0.02, -0.025, 0.008, -0.008, None,
    -0.032, -0.003,
    -0.014, 0.008, -0.025, 0.059, 0.008, -0.025, -0.025, 0.02, -0.008, 0.071, -0.049,
    -0.025, 0.008, -0.008, 0.049, None, -0.003, -0.047, 0.066, 0.008, 0.02, 0.003,
    -0.025, 0.031, -0.014, -0.008, 0.003, -0.037, -0.071, -0.008, -0.061, 0.071, -0.008,
    -0.014, 0.049, -0.042, -0.054, -0.073, -0.02,
]
bl_ud_gps = [
    0.039, -0.034, 0.039, 0.07, -0.072, 0.002, -0.052, -0.056, -0.025,
    0.044, 0.108, -0.03, -0.009, -0.033, 0.075, 0.023, 0.081, 0.013, 0.172, -0.002,
    -0.061, -0.009, 0.033, 0.039, -0.03, -0.03, None, None,
    -0.125, 0.05,
    0.113, -0.019, -0.03, -0.114, -0.019, 0.017, 0.013, 0.028, 0.059, 0.033, 0.023,
    0.039, -0.014, 0.039, -0.067, 0.066, 0.039, -0.027, -0.003, 0.008, -0.025, -0.088,
    0.044, -0.045, -0.052, -0.025, -0.045, -0.052, 0.066, 0.002, 0.023, 0.113, 0.055,
    -0.052, 0.033, 0.023, -0.003, -0.003, 0.05,
]
bl_ud_glo = [
    0.028, 0.097, -0.019, 0.044, 0.139, 0.017, -0.055, -0.058, -0.045,
    0.055, 0.055, -0.052, 0.039, -0.034, 0.033, 0.028, 0.066, -0.019, 0.017, 0.033,
    -0.034, -0.194, -0.061, 0.066, -0.141, 0.081, 0.05, None,
    -0.045, 0.002,
    0.066, -0.052, -0.025, -0.094, -0.061, 0.008, -0.141, -0.052, 0.013, -0.003, 0.044,
    0.155, -0.009, -0.003, -0.147, None, -0.083, -0.025, -0.152, -0.03, 0.044, 0.008,
    0.028, -0.052, -0.003, -0.019, 0.002, 0.017, 0.06, -0.034, -0.034, -0.041, 0.113,
    0.108, -0.034, 0.039, 0.097, 0.05, 0.102,
]

# Bottom-right quadrant (4-hour epochs)
br_hours = [-8, -4, 0, 4, 8, 12, 16, 20, 24, 28, 32, 36, 40, 44, 48, 52, 56, 60,
            64, 68, 72, 76, 80, 84, 88, 92, 96, 100, 104, 108, 112, 116, 120, 124, 128]
br_ew_gps = [0.073, 0.113, -0.057, -0.005, -0.17, 0.078, 0.061, 0.103, -0.04, -0.04,
             -0.2, 0.049, 0.024, 0.113, 0.002, -0.064, -0.17, 0.035, 0.049, 0.078,
             -0.117, None, -0.2, 0.061, 0.108, 0.113, -0.045, -0.057, -0.139, 0.031,
             0.125, 0.078, -0.111, -0.01, -0.087]
br_ew_glo = [0.061, 0.007, -0.2, 0.071, -0.129, 0.066, 0.155, 0.012, -0.03, -0.03,
             -0.158, 0.089, 0.012, -0.092, -0.023, None, -0.03, 0.037, -0.005, 0.037,
             -0.035, -0.064, -0.077, 0.012, -0.017, -0.07, 0.012, 0.002, -0.035, -0.023,
             0.167, 0.049, -0.087, -0.064, -0.287]
br_ns_gps = [0.024, -0.034, 0.003, 0.003, -0.003, 0.04, 0.019, -0.029, 0.008, -0.003,
             -0.019, 0.008, 0.013, -0.029, 0.019, 0.024, -0.024, 0.019, 0.051, -0.024,
             -0.014, None, -0.008, 0.013, 0.012, -0.029, 0.008, 0.002, -0.008, 0.029,
             0.019, -0.027, -0.035, -0.003, -0.024]
br_ns_glo = [-0.008, -0.051, -0.035, -0.062, -0.008, 0.013, -0.019, 0.008, -0.014, 0.002,
             -0.014, -0.003, 0.019, 0.013, 0.013, None, -0.014, -0.003, 0.024, -0.019,
             0.002, 0.029, -0.003, 0.019, 0.013, 0.019, 0.013, -0.003, 0.013, 0.002,
             -0.046, -0.029, 0.029, 0.019, -0.046]
br_ud_gps = [-0.022, 0.023, 0.033, -0.02, -0.044, -0.085, 0.058, -0.029, -0.008, 0.064,
             0.08, -0.029, -0.024, 0.012, -0.014, -0.212, 0.074, -0.039, -0.044, 0.023,
             0.027, None, 0.017, -0.003, 0.048, -0.024, -0.029, 0.002, -0.044, -0.039,
             0.012, 0.012, 0.053, 0.012, 0.038]
br_ud_glo = [-0.024, 0.044, 0.012, 0.068, -0.055, -0.02, 0.033, -0.008, 0.002, 0.059,
             0.023, 0.008, -0.085, -0.014, 0.053, None, 0.044, -0.044, -0.055, -0.039,
             -0.008, 0.023, 0.074, -0.055, -0.044, -0.07, -0.014, 0.012, -0.024, -0.02,
             0.126, -0.029, 0.027, 0.017, 0.08]

component_labels = ["E-W (m)", "N-S (m)", "U-D (m)"]
series_names = ["GPS", "GPS+GLONASS"]
tick_vals_1 = [-1, 0, 1]
tick_text_1 = ["-1", "0", "1"]
tick_vals_05 = [-0.5, 0, 0.5]
tick_text_05 = ["-0.5", "0.0", "0.5"]
tick_vals_02 = [-0.2, 0, 0.2]
tick_text_02 = ["-0.2", "0.0", "0.2"]

# ---------------- layout geometry (pixels) ----------------
W, H = 1170, 830
RED = "#ff0000"
BLUE = "#0000ff"
GRID = "#c8c8c8"
FRAME = "#c4c4c4"
TXT = "#3a3a3a"
FONT = "DejaVu Sans"
DASH = "4px,3px"

quads = [
    dict(hours=tl_hours,
         gps=[tl_ew_gps, tl_ns_gps, tl_ud_gps], glo=[tl_ew_glo, tl_ns_glo, tl_ud_glo],
         xpx=(41.3, 500.7), xr=(-0.159, 5.738),
         rows=[(49, 167.5), (170.5, 288.5), (291.5, 409)],
         yr=[(-1.134, 1.203), (-1.27, 1.345), (-1.095, 1.285)],
         tv=tick_vals_1, tt=tick_text_1),
    dict(hours=tr_hours,
         gps=[tr_ew_gps, tr_ns_gps, tr_ud_gps], glo=[tr_ew_glo, tr_ns_glo, tr_ud_glo],
         xpx=(553.7, 1013.7), xr=(-0.26, 5.63),
         rows=[(47.3, 165.5), (168, 286), (288.5, 406.7)],
         yr=[(-0.602, 0.647), (-0.63, 0.654), (-0.635, 0.68)],
         tv=tick_vals_05, tt=tick_text_05),
    dict(hours=bl_hours,
         gps=[bl_ew_gps, bl_ns_gps, bl_ud_gps], glo=[bl_ew_glo, bl_ns_glo, bl_ud_glo],
         xpx=(40, 500.7), xr=(-0.198, 5.626),
         rows=[(445, 564), (566.5, 685), (687.5, 806)],
         yr=[(-0.311, 0.334), (-0.305, 0.296), (-0.287, 0.278)],
         tv=tick_vals_02, tt=tick_text_02),
    dict(hours=br_hours,
         gps=[br_ew_gps, br_ns_gps, br_ud_gps], glo=[br_ew_glo, br_ns_glo, br_ud_glo],
         xpx=(553.7, 1013.7), xr=(-0.335, 5.465),
         rows=[(446, 565), (567.5, 686), (688.5, 806.7)],
         yr=[(-0.319, 0.299), (-0.289, 0.287), (-0.264, 0.258)],
         tv=tick_vals_02, tt=tick_text_02),
]


def to_dates(hours):
    return [BASE + pd.Timedelta(hours=h) for h in hours]


fig = go.Figure()
layout = {}
annotations = []
n = 0
for q, Q in enumerate(quads):
    dates = to_dates(Q["hours"])
    x0 = (BASE + pd.Timedelta(days=Q["xr"][0])).isoformat()
    x1 = (BASE + pd.Timedelta(days=Q["xr"][1])).isoformat()
    for r in range(3):
        n += 1
        xa = "xaxis" if n == 1 else f"xaxis{n}"
        ya = "yaxis" if n == 1 else f"yaxis{n}"
        xs = "x" if n == 1 else f"x{n}"
        ys = "y" if n == 1 else f"y{n}"
        top, bot = Q["rows"][r]
        layout[xa] = dict(
            domain=[Q["xpx"][0] / W, Q["xpx"][1] / W], anchor=ys, type="date",
            range=[x0, x1], tick0=BASE.isoformat(), dtick=86400000,
            tickformat="%m/%d", showticklabels=(r == 2), ticks="", ticklen=0,
            ticklabelstandoff=6,
            showgrid=True, gridcolor=GRID, griddash=DASH, gridwidth=1,
            showline=True, mirror=True, linecolor=FRAME, linewidth=1.5,
            zeroline=False, tickfont=dict(family=FONT, size=13, color=TXT),
            fixedrange=True,
        )
        layout[ya] = dict(
            domain=[1 - bot / H, 1 - top / H], anchor=xs,
            range=list(Q["yr"][r]), tickvals=Q["tv"], ticktext=Q["tt"],
            ticks="", ticklen=0, ticklabelstandoff=2,
            showgrid=True, gridcolor=GRID, griddash=DASH, gridwidth=1,
            zeroline=True, zerolinecolor="#c0c0c0", zerolinewidth=2,
            showline=True, mirror=True, linecolor=FRAME, linewidth=1.5,
            tickfont=dict(family=FONT, size=13, color=TXT), fixedrange=True,
        )
        for s, (vals, color, leg) in enumerate(
                [(Q["gps"][r], RED, "legend"), (Q["glo"][r], BLUE, "legend2")]):
            m = min(len(dates), len(vals))
            fig.add_trace(go.Scatter(
                x=dates[:m], y=vals[:m], mode="markers", xaxis=xs, yaxis=ys,
                name=series_names[s], legend=leg, showlegend=(n == 1),
                marker=dict(color=color, size=6, line=dict(width=0)),
                hoverinfo="skip",
            ))
        annotations.append(dict(
            text=component_labels[r], xref=f"{xs} domain", yref=f"{ys} domain",
            x=0, y=1, xanchor="left", yanchor="top", xshift=1, yshift=-6,
            showarrow=False, font=dict(family=FONT, size=13, color=TXT),
        ))

fig.update_layout(
    width=W, height=H, autosize=False,
    margin=dict(l=0, r=0, t=0, b=0),
    paper_bgcolor="white", plot_bgcolor="white",
    title=dict(text="<b>Point B</b>", x=541 / W, xanchor="center",
               y=1 - 18 / H, yanchor="middle",
               font=dict(family="Lato", size=25, color="black")),
    legend=dict(x=1024 / W, y=1 - 400 / H, xanchor="left", yanchor="middle",
                bgcolor="rgba(0,0,0,0)",
                font=dict(family="Lato", size=17, color="black", weight="bold")),
    legend2=dict(x=1024 / W, y=1 - 447 / H, xanchor="left", yanchor="middle",
                 bgcolor="rgba(0,0,0,0)",
                 font=dict(family="Lato", size=17, color="black", weight="bold")),
    annotations=annotations,
    **layout,
)

fig.write_html(
    "out.html",
    config={"displayModeBar": False},
    post_script="document.body.style.margin='0';document.body.style.padding='0';",
)
